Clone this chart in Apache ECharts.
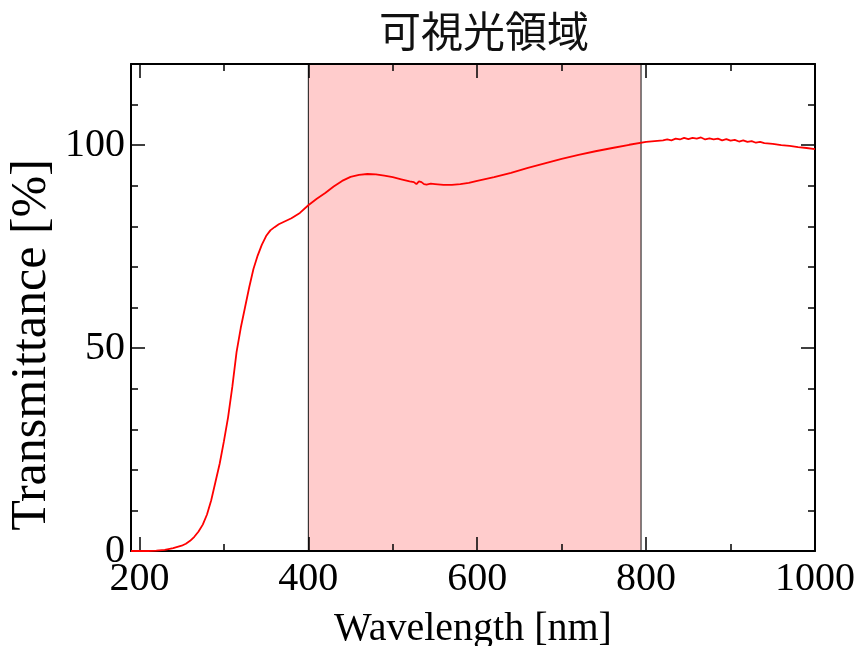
<!DOCTYPE html>
<html>
<head>
<meta charset="utf-8">
<script src="https://cdn.jsdelivr.net/npm/echarts@6/dist/echarts.min.js"></script>
<style>
html,body{margin:0;padding:0;background:#fff;}
#chart{width:859px;height:646px;}
</style>
</head>
<body>
<div id="chart"></div>
<script>
// ---- data ----
const wavelength = [190,200,210,220,230,240,250,255,260,265,270,275,280,285,290,295,300,305,310,315,320,325,330,335,340,345,350,355,360,365,370,380,390,400,410,420,430,440,450,460,470,480,490,500,510,520,525,528,531,534,537,540,545,550,560,570,580,590,600,620,640,660,680,700,720,740,760,780,800,810,820,825,830,835,840,845,850,855,860,865,870,875,880,885,890,895,900,905,910,915,920,925,930,935,940,950,960,970,980,990,1000];
const transmittance = [0,0,0,0.1,0.3,0.7,1.3,1.8,2.5,3.5,4.8,6.5,9,12.5,17,21.5,27,33,40.5,49,55,60,65,69.5,72.8,75.5,77.6,79,79.8,80.5,81,82,83.3,85.2,86.8,88.2,89.8,91.2,92.2,92.7,92.9,92.8,92.5,92.1,91.6,91.1,90.9,90.4,91.1,90.9,90.4,90.3,90.5,90.4,90.2,90.2,90.4,90.7,91.2,92.1,93.2,94.4,95.5,96.6,97.6,98.5,99.3,100.1,100.8,101.0,101.2,101.4,101.2,101.6,101.4,101.8,101.5,101.8,101.6,101.9,101.4,101.7,101.4,101.6,101.2,101.5,101.1,101.3,100.9,101.2,100.8,101.0,100.6,100.8,100.5,100.3,100.0,99.8,99.5,99.3,99.0];
const visibleRange = [400, 794];
const xMajorTicks = [200,400,600,800,1000];
const xMinorTicks = [300,500,700,900];
const yMajorTicks = [0,50,100];
const yMinorTicks = [10,20,30,40,60,70,80,90,110];
const titleText = '可視光領域';
const xTitle = 'Wavelength [nm]';
const yTitle = 'Transmittance [%]';

const serif = '"Liberation Serif","DejaVu Serif",serif';
const chart = echarts.init(document.getElementById('chart'));

function xAx(pos, ticks, len, withLine, withLabel){
  const a = {
    type:'value', position:pos, min:190, max:1000, z:5,
    splitLine:{show:false},
    axisLine:{show:withLine, onZero:false, lineStyle:{color:'#000', width:2}},
    axisTick:{show:true, inside:true, length:len, customValues:ticks, lineStyle:{color:'#000', width:1.5}},
    axisLabel:{show:withLabel, customValues:ticks, formatter:v=>String(v), fontFamily:serif, fontSize:40, color:'#000', margin:8}
  };
  if (withLabel){
    a.name = xTitle; a.nameLocation='middle'; a.nameGap=58;
    a.nameTextStyle = {fontFamily:serif, fontSize:40, color:'#000', verticalAlign:'top'};
  }
  return a;
}
function yAx(pos, ticks, len, withLine, withLabel){
  return {
    type:'value', position:pos, min:0, max:120, z:5,
    splitLine:{show:false},
    axisLine:{show:withLine, onZero:false, lineStyle:{color:'#000', width:2}},
    axisTick:{show:true, inside:true, length:len, customValues:ticks, lineStyle:{color:'#000', width:1.5}},
    axisLabel:{show:withLabel, customValues:ticks, formatter:v=>String(v), fontFamily:serif, fontSize:40, color:'#000', margin:6}
  };
}

const pts = wavelength.map((w,i)=>[w, transmittance[i]]);

chart.setOption({
  animation:false,
  backgroundColor:'#fff',
  title:{text:titleText, left:374, top:5,
    textStyle:{fontFamily:'"Noto Sans CJK JP"', fontSize:42, fontWeight:'normal', color:'#111'}},
  grid:{left:131, right:44, top:64, bottom:95, containLabel:false, outerBoundsMode:'none'},
  xAxis:[
    xAx('bottom', xMajorTicks, 14, true, true),
    xAx('bottom', xMinorTicks, 7, false, false),
    xAx('top', xMajorTicks, 14, true, false),
    xAx('top', xMinorTicks, 7, false, false)
  ],
  yAxis:[
    yAx('left', yMajorTicks, 14, true, true),
    yAx('left', yMinorTicks, 7, false, false),
    yAx('right', yMajorTicks, 14, true, false),
    yAx('right', yMinorTicks, 7, false, false)
  ],
  graphic:[{
    type:'text', x:32, y:345, rotation:Math.PI/2,
    style:{text:yTitle, font:'50px ' + serif, fill:'#000', textAlign:'center', textVerticalAlign:'middle'}
  }],
  series:[
    {
      type:'line', xAxisIndex:0, yAxisIndex:0, z:1,
      data: pts, showSymbol:false, symbol:'none', silent:true,
      lineStyle:{opacity:0, width:0},
      markArea:{silent:true,
        itemStyle:{color:'#ffcccc', borderColor:'#111', borderWidth:1},
        data:[[{xAxis:visibleRange[0]},{xAxis:visibleRange[1]}]]}
    },
    {
      type:'line', xAxisIndex:0, yAxisIndex:0, z:10,
      data: pts, showSymbol:false, symbol:'none',
      lineStyle:{color:'#ff0000', width:1.8}
    },
    {type:'line', xAxisIndex:1, yAxisIndex:1, data:[]},
    {type:'line', xAxisIndex:2, yAxisIndex:2, data:[]},
    {type:'line', xAxisIndex:3, yAxisIndex:3, data:[]}
  ]
});
</script>
</body>
</html>
